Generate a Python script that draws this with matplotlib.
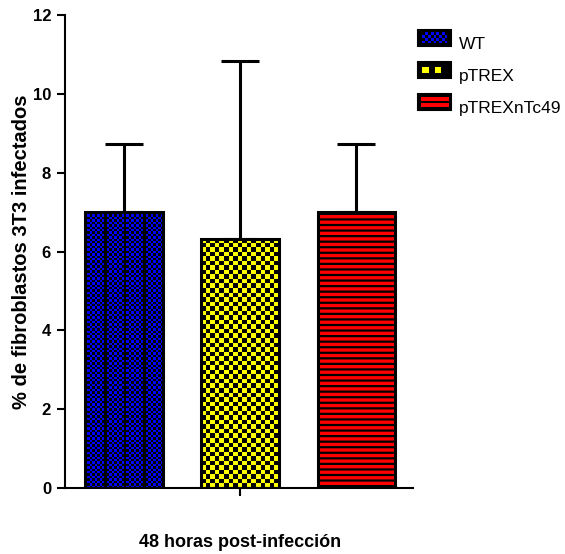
import numpy as np
import matplotlib
matplotlib.use("Agg")
import matplotlib.pyplot as plt
from matplotlib.patches import Rectangle
from matplotlib.legend_handler import HandlerBase

plt.rcParams['font.family'] = ['Liberation Sans', 'DejaVu Sans']
plt.rcParams['hatch.linewidth'] = 1.6

groups = ["WT", "pTREX", "pTREXnTc49"]
means = [7.0, 6.33, 7.0]
errors = [1.72, 4.5, 1.72]
colors = ["#0000ff", "#ffff00", "#ff0000"]
yticks = [0, 2, 4, 6, 8, 10, 12]


def checker(nx, ny, color, grid=None):
    # RGB checkerboard texture, optional black grid every `grid` cells
    img = np.zeros((ny, nx, 3))
    rgb = np.array(matplotlib.colors.to_rgb(color))
    yy, xx = np.mgrid[0:ny, 0:nx]
    mask = (xx + yy) % 2 == 0
    img[mask] = rgb
    if grid:
        img[:, ::grid] = 0
    return img


class TextureHandler(HandlerBase):
    def __init__(self, color, cell, kind):
        super().__init__()
        self.color, self.cell, self.kind = color, cell, kind

    def create_artists(self, legend, orig_handle, xd, yd, w, h, fontsize, trans):
        arts = [Rectangle((xd, yd), w, h, facecolor="black", edgecolor="black",
                          lw=1.5, transform=trans)]
        if self.kind == "lines":
            n = 2
            for i in range(n):
                y0 = yd + 2 + (h - 4) * (i + 0.15) / n
                arts.append(Rectangle((xd + 2, y0), w - 4, (h - 4) / n * 0.65,
                                      facecolor=self.color, lw=0, transform=trans))
        else:
            c = self.cell
            nx, ny = int((w - 4) // c), int((h - 4) // c)
            ox = xd + (w - nx * c) / 2
            oy = yd + (h - ny * c) / 2
            for i in range(nx):
                for j in range(ny):
                    if (i + j) % 2 == 0:
                        arts.append(Rectangle((ox + i * c, oy + j * c), c, c,
                                              facecolor=self.color, lw=0, transform=trans))
        return arts


fig = plt.figure(figsize=(5.65, 5.54), dpi=100)
ax = fig.add_axes([0.115, 0.119, 0.616, 0.854])

x = np.arange(len(groups))
width = 0.67
xlim = (-0.509, 2.487)
ax.set_xlim(*xlim)
ax.set_ylim(0, 12)

# pixel scale for textures
px_per_x = fig.get_figwidth() * fig.dpi * 0.616 / (xlim[1] - xlim[0])
px_per_y = fig.get_figheight() * fig.dpi * 0.854 / 12

# error bars (upper only)
ax.errorbar(x, means, yerr=[np.zeros(3), errors], fmt="none", ecolor="black",
            elinewidth=2.2, capsize=14, capthick=2.2, zorder=1)

# WT: fine blue checker with vertical dark lines
wpx = width * px_per_x
hpx = means[0] * px_per_y
tex = checker(int(wpx / 2.4), int(hpx / 2.4), colors[0], grid=8)
ax.imshow(tex, extent=(x[0] - width / 2, x[0] + width / 2, 0, means[0]),
          aspect="auto", interpolation="nearest", zorder=2)

# pTREX: coarse yellow checker
hpx = means[1] * px_per_y
tex = checker(int(wpx / 4.5), int(hpx / 4.5), colors[1])
ax.imshow(tex, extent=(x[1] - width / 2, x[1] + width / 2, 0, means[1]),
          aspect="auto", interpolation="nearest", zorder=2)

# pTREXnTc49: red with horizontal lines
ax.bar(x[2], means[2], width, color=colors[2], hatch="---", edgecolor="black",
       linewidth=0, zorder=2)

# bar outlines
ax.bar(x, means, width, facecolor="none", edgecolor="black", linewidth=2.2, zorder=3)
ax.set_xlim(*xlim)
ax.set_ylim(0, 12)

ax.spines["top"].set_visible(False)
ax.spines["right"].set_visible(False)
ax.spines["left"].set_linewidth(1.5)
ax.spines["bottom"].set_linewidth(1.5)
ax.set_yticks(yticks)
ax.set_yticklabels([str(t) for t in yticks], fontsize=12, fontweight="bold")
ax.set_xticks([1])
ax.set_xticklabels([""])
ax.tick_params(axis="both", direction="out", length=6, width=1.5, pad=4)
ax.set_ylabel("% de fibroblastos 3T3 infectados", fontsize=14.5, fontweight="bold")
ax.yaxis.set_label_coords(-0.097, 0.5)
fig.text(0.425, 0.005, "48 horas post-infección", ha="center", va="bottom",
         fontsize=13, fontweight="bold")

handles = [Rectangle((0, 0), 1, 1) for _ in groups]
handler_map = {
    handles[0]: TextureHandler(colors[0], 2.0, "checker"),
    handles[1]: TextureHandler(colors[1], 4.5, "checker"),
    handles[2]: TextureHandler(colors[2], 0, "lines"),
}
fig.legend(handles, groups, handler_map=handler_map, loc="upper left",
           bbox_to_anchor=(0.713, 0.966), frameon=False, fontsize=12.5,
           handlelength=1.9, handleheight=1.1, labelspacing=0.85, handletextpad=0.45)

fig.savefig("out.png", dpi=100)
